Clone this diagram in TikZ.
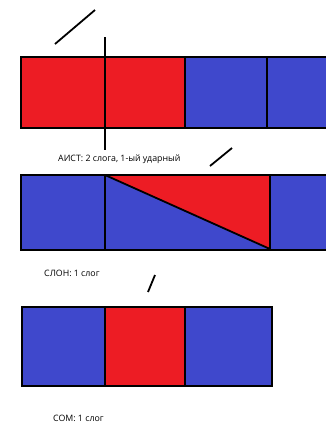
\documentclass[tikz,border=0pt]{standalone}
\usepackage{fontspec}
\setmainfont{Open Sans}
\definecolor{pred}{HTML}{ED1C24}
\definecolor{pblue}{HTML}{3F48CC}
\tikzset{
  cell/.style={draw=black, line width=1.8pt},
  mark stroke/.style={draw=black, line width=1.8pt},
  lbl/.style={font=\fontsize{8.8}{10}\selectfont, inner sep=0pt, anchor=west},
}
\begin{document}
\begin{tikzpicture}[x=1pt,y=-1pt]
\useasboundingbox (0,0) rectangle (326,424);
\clip (0,0) rectangle (326,424);
\fill[white] (0,0) rectangle (326,424);
% Row 1
\fill[pred] (21,57) rectangle (185,128);
\fill[pblue] (185,57) rectangle (330,128);
\draw[cell] (330,57) -- (21,57) -- (21,128) -- (330,128);
\draw[cell] (185,57) -- (185,128);
\draw[cell] (267,57) -- (267,128);
\draw[line width=1.3pt] (105,37) -- (105,150);
\draw[mark stroke] (55,44) -- (95,10);
% Row 2
\fill[pblue] (21,175) rectangle (330,250);
\fill[pred] (105,175) -- (270,175) -- (270,249) -- cycle;
\draw[cell] (330,175) -- (21,175) -- (21,250) -- (330,250);
\draw[cell] (105,175) -- (105,250);
\draw[cell] (270,175) -- (270,250);
\draw[cell] (105,175) -- (270,249);
\draw[mark stroke] (210,166) -- (232,148);
\node[lbl] (aist) at (58,159) {АИСТ: 2 слога, 1-ый ударный};
% Row 3
\node[lbl] (slon) at (44,273) {СЛОН: 1 слог};
\fill[pblue] (22,307) rectangle (272,386);
\fill[pred] (105,307) rectangle (185,386);
\draw[cell] (22,307) rectangle (272,386);
\draw[cell] (105,307) -- (105,386);
\draw[cell] (185,307) -- (185,386);
\draw[mark stroke] (148,292) -- (155,275);
\node[lbl] (som) at (53,418.5) {СОМ: 1 слог};
\end{tikzpicture}
\end{document}
